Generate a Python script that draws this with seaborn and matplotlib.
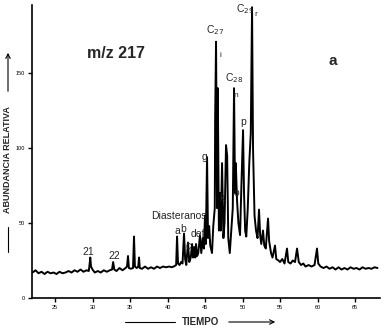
import matplotlib
matplotlib.use("Agg")
import matplotlib.pyplot as plt
import seaborn as sns
import pandas as pd

# Retention time (min) and relative abundance
tiempo = [22.0, 22.4, 22.8, 23.2, 23.6, 24.0, 24.4, 24.8, 25.2, 25.6, 26.0, 26.4, 26.8, 27.2, 27.6,
          28.0, 28.4, 28.8, 29.2, 29.5, 29.6, 29.7, 29.8, 30.0, 30.3, 30.7, 31.1, 31.5, 31.9, 32.3,
          32.6, 32.75, 32.9, 33.2, 33.6, 34.0, 34.4, 34.6, 34.73, 34.85, 35.1, 35.4, 35.53, 35.65,
          35.9, 36.1, 36.2, 36.3, 36.6, 37.0, 37.4, 37.8, 38.2, 38.6, 39.0, 39.4, 39.8, 40.2, 40.6,
          41.0, 41.15, 41.27, 41.4, 41.6, 41.8, 42.0, 42.2, 42.35, 42.5, 42.73, 42.9, 43.1, 43.27,
          43.4, 43.55, 43.7, 43.8, 43.95, 44.1, 44.33, 44.5, 44.7, 44.85, 45.0, 45.1, 45.27, 45.4,
          45.55, 45.7, 45.93, 46.1, 46.3, 46.35, 46.47, 46.6, 46.7, 46.85, 47.0, 47.1, 47.27, 47.45,
          47.6, 47.8, 47.95, 48.1, 48.3, 48.5, 48.7, 48.87, 49.0, 49.1, 49.27, 49.45, 49.67, 49.85,
          50.07, 50.2, 50.35, 50.5, 50.7, 50.9, 51.1, 51.27, 51.4, 51.6, 51.8, 52.0, 52.2, 52.35,
          52.5, 52.73, 52.9, 53.1, 53.4, 53.55, 53.8, 54.0, 54.33, 54.5, 54.8, 55.0, 55.3, 55.6,
          55.93, 56.1, 56.4, 56.7, 57.0, 57.27, 57.5, 57.8, 58.1, 58.4, 58.8, 59.2, 59.6, 59.93,
          60.1, 60.4, 60.8, 61.2, 61.6, 62.0, 62.4, 62.8, 63.2, 63.6, 64.0, 64.4, 64.8, 65.2, 65.6,
          66.0, 66.4, 66.8, 67.2, 67.6, 68.0]
abundancia = [17, 18.5, 16.5, 17.5, 16, 17.5, 16.5, 17, 16, 17.5, 16.5, 17, 18, 17, 18.5,
              17.5, 19, 17.5, 18.5, 18, 22, 27, 21, 19, 17, 18, 17, 18.5, 17.5, 18.5,
              19, 24, 19, 18, 20, 18.5, 20, 21, 28, 20, 19.5, 20, 41, 21,
              20, 21, 27, 20, 19.5, 21, 19.5, 20.5, 19.5, 21, 20, 21, 20.5, 21, 20.5,
              21.5, 22, 41, 23, 22, 24, 23, 43, 26, 22, 37, 24, 27, 36,
              27, 34, 27, 36, 28, 30, 42, 30, 40, 33, 55, 36, 94, 40,
              48, 35, 30, 48, 60, 120, 171, 60, 140, 45, 70, 45, 90, 40,
              50, 102, 95, 40, 30, 45, 60, 140, 70, 90, 65, 50, 42, 75,
              112, 70, 45, 41, 60, 90, 110, 194, 100, 55, 45, 40, 59, 42,
              36, 45, 35, 33, 53, 38, 30, 27, 35, 26, 25, 24, 26, 23,
              33, 24, 23, 25, 24, 33, 24, 22, 23, 21, 22, 21, 22, 33,
              23, 21, 20, 21, 19.5, 20.5, 19, 20.5, 19, 20, 19, 20.5, 19.5, 20, 19,
              20.5, 19.5, 20, 19.5, 20.5, 20]
xticks = [25, 30, 35, 40, 45, 50, 55, 60, 65]
yticks = [0, 50, 100, 150]

df = pd.DataFrame({"tiempo": tiempo, "abundancia": abundancia})

sns.set_style("ticks")
plt.rcParams["font.family"] = ["Liberation Sans", "DejaVu Sans"]

fig = plt.figure(figsize=(3.84, 3.31), dpi=100)
ax = fig.add_axes([32 / 384, 1 - 298 / 331, 348 / 384, 293 / 331])
sns.lineplot(data=df, x="tiempo", y="abundancia", ax=ax, color="black", linewidth=1.4)
ax.set_xlim(21.93, 68.33)
ax.set_ylim(0, 195.5)
ax.set_xticks(xticks)
ax.set_xticklabels([str(t) for t in xticks], fontsize=4)
ax.set_yticks(yticks)
ax.set_yticklabels([str(t) for t in yticks], fontsize=4)
ax.tick_params(axis="both", length=3, width=1, pad=2, colors="black")
ax.set_xlabel("")
ax.set_ylabel("")
for s in ["top", "right"]:
    ax.spines[s].set_visible(False)
for s in ["left", "bottom"]:
    ax.spines[s].set_linewidth(1.2)
    ax.spines[s].set_color("black")

# annotations
ax.text(29.3, 163, "m/z 217", fontsize=11.5, fontweight="bold", ha="left", va="center")
ax.text(62.0, 158, "a", fontsize=11, fontweight="bold", ha="center", va="center")
ax.text(46.4, 174, "C$_{27}$", fontsize=7.5, ha="center", va="bottom")
ax.text(47.0, 162, "i", fontsize=6, ha="center", va="center")
ax.text(48.9, 142, "C$_{28}$", fontsize=7.5, ha="center", va="bottom")
ax.text(49.1, 135, "n", fontsize=6, ha="center", va="center")
ax.text(50.3, 193, "C$_{29}$", fontsize=7.5, ha="center", va="center")
ax.text(51.75, 189, "r", fontsize=6, ha="center", va="center")
ax.text(50.1, 114, "p", fontsize=7.5, ha="center", va="bottom")
ax.text(44.9, 94, "g", fontsize=7.5, ha="center", va="center")
ax.text(47.2, 67, "k", fontsize=7.5, ha="center", va="center")
ax.text(49.2, 70, "o", fontsize=7.5, ha="center", va="center")
ax.text(41.5, 55, "Diasteranos", fontsize=7.5, ha="center", va="center")
ax.text(41.3, 45, "a", fontsize=7.5, ha="center", va="center")
ax.text(42.1, 46, "b", fontsize=7.5, ha="center", va="center")
ax.text(43.1, 43, "def", fontsize=7.5, ha="left", va="center")
ax.text(42.8, 35, "c", fontsize=7.5, ha="center", va="center")
ax.text(29.5, 31, "21", fontsize=7.5, ha="center", va="center")
ax.text(32.9, 28, "22", fontsize=7.5, ha="center", va="center")

# axis titles with arrows
fig.text(201 / 384, 1 - 322 / 331, "TIEMPO", fontsize=7, fontweight="bold", ha="center", va="center")
fig.add_artist(plt.Line2D([125 / 384, 175 / 384], [1 - 322 / 331] * 2, color="black", lw=0.8))
fig.add_artist(matplotlib.patches.FancyArrowPatch((226 / 384, 1 - 322 / 331), (278 / 384, 1 - 322 / 331),
               transform=fig.transFigure, arrowstyle="->", mutation_scale=8, color="black", lw=0.8))
fig.text(8 / 384, 1 - 160 / 331, "ABUNDANCIA RELATIVA", fontsize=6.5, fontweight="bold", rotation=90,
         ha="center", va="center")
fig.add_artist(plt.Line2D([8 / 384] * 2, [1 - 252 / 331, 1 - 227 / 331], color="black", lw=0.8))
fig.add_artist(matplotlib.patches.FancyArrowPatch((8 / 384, 1 - 94 / 331), (8 / 384, 1 - 50 / 331),
               transform=fig.transFigure, arrowstyle="->", mutation_scale=8, color="black", lw=0.8))

fig.savefig("out.png", dpi=100)
